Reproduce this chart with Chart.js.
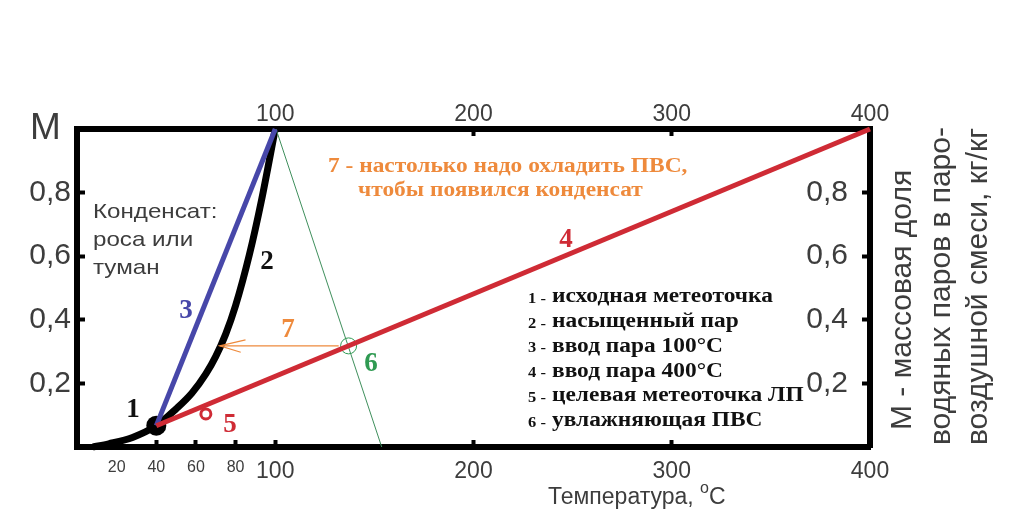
<!DOCTYPE html>
<html><head><meta charset="utf-8">
<script src="https://cdn.jsdelivr.net/npm/chart.js@4.4.1/dist/chart.umd.min.js"></script>
<style>html,body{margin:0;padding:0;background:#fff;}#wrap{width:1024px;height:531px;position:relative;}</style>
</head><body><div id="wrap"><canvas id="c"></canvas></div>
<script>
// ---- data ----
const satTemp  = [8, 16, 28, 40, 50, 58, 65, 70, 75, 80, 87, 93, 100];
const satMass  = [0, 0.01, 0.03, 0.067, 0.12, 0.17, 0.23, 0.285, 0.355, 0.445, 0.606, 0.774, 1.0];
const steam100Temp = [40, 100];
const steam100Mass = [0.067, 1.0];
const steam400Temp = [40, 400];
const steam400Mass = [0.067, 1.0];
const humidTemp = [100.4, 153.7];
const humidMass = [1.0, 0];
const coolTemp = [132, 72];
const coolMass = [0.318, 0.318];
const arrowHeadTemp = [85, 72, 82.6];
const arrowHeadMass = [0.337, 0.318, 0.298];
const startPoint = [40, 0.067];
const targetPoint = [65, 0.104];
const crossPoint = [137, 0.318];
const topTicks = [100, 200, 300, 400];
const bottomTicks = [20, 40, 60, 80, 100, 200, 300, 400];
const leftTicks = [0.2, 0.4, 0.6, 0.8, 1.0];
const rightTicks = [0.2, 0.4, 0.6, 0.8];
const legendNums = ['1 -', '2 -', '3 -', '4 -', '5 -', '6 -'];
const legendTexts = ['исходная метеоточка', 'насыщенный пар', 'ввод пара 100°C', 'ввод пара 400°C', 'целевая метеоточка ЛП', 'увлажняющая ПВС'];
const noteLines = ['7 - настолько надо охладить ПВС,', 'чтобы появился конденсат'];
const condLines = ['Конденсат:', 'роса или', 'туман'];
const rightTitle = ['M - массовая доля', 'водяных паров в паро-', 'воздушной смеси, кг/кг'];

const pts = (xs, ys) => xs.map((x, i) => ({x: x, y: ys[i]}));
const fmt = v => v.toFixed(1).replace('.', ',');

const SANS = 'Liberation Sans, Arial, sans-serif';
const SERIF = 'Liberation Serif, Times New Roman, serif';
const GRAY = '#3d3d3d';
const RED = '#cf2b35', BLUE = '#4747a9', GREEN = '#2f9a52', ORANGE = '#ee8a3c';

const annot = {
  id: 'annot',
  afterDatasetsDraw(chart) {
    const c = chart.ctx;
    c.save();
    const t = (s, x, y, font, color, align, sx) => {
      c.save();
      c.translate(x, y);
      c.scale(sx || 1, 1);
      c.font = font; c.fillStyle = color; c.textAlign = align || 'center'; c.textBaseline = 'middle';
      c.fillText(s, 0, 0);
      c.restore();
    };
    const big = 'bold 27px ' + SERIF;
    t('1', 133, 410, big, '#111');
    t('2', 267, 262, big, '#111');
    t('3', 186, 311, big, BLUE);
    t('4', 566, 240, big, RED);
    t('5', 230, 425, big, RED);
    t('6', 371, 364, big, GREEN);
    t('7', 288, 330, big, ORANGE);
    // orange note
    t(noteLines[0], 328, 167, 'bold 20px ' + SERIF, ORANGE, 'left', 1.17);
    t(noteLines[1], 358, 191, 'bold 20px ' + SERIF, ORANGE, 'left', 1.17);
    // condensate
    condLines.forEach((s, i) => t(s, 93, 212 + i * 28, '21px ' + SANS, GRAY, 'left', 1.15));
    // legend
    legendTexts.forEach((s, i) => {
      const y = 297 + i * 24.8;
      t(legendNums[i], 537, y + 2, 'bold 15px ' + SERIF, '#111', 'center', 1.1);
      t(s, 552, y, 'bold 20px ' + SERIF, '#111', 'left', 1.17);
    });
    // x title
    c.font = '23px ' + SANS; c.fillStyle = GRAY; c.textAlign = 'left'; c.textBaseline = 'middle';
    const a = 'Температура, ';
    let x0 = 548;
    c.fillText(a, x0, 498);
    x0 += c.measureText(a).width;
    c.font = '16px ' + SANS; c.fillText('o', x0, 489);
    x0 += c.measureText('o').width;
    c.font = '23px ' + SANS; c.fillText('C', x0, 498);
    // right title rotated
    const rx = [903, 942, 979], ry = [430, 445, 445];
    rightTitle.forEach((s, i) => {
      c.save();
      c.translate(rx[i], ry[i]);
      c.rotate(-Math.PI / 2);
      c.font = '30px ' + SANS; c.fillStyle = GRAY; c.textAlign = 'left'; c.textBaseline = 'middle';
      c.fillText(s, 0, 0);
      c.restore();
    });
    c.restore();
  }
};

const tickColorFor = (list) => (ctx) => (ctx.tick && list.includes(ctx.tick.value)) ? '#000' : 'rgba(0,0,0,0)';

new Chart(document.getElementById('c'), {
  type: 'scatter',
  data: {
    datasets: [
      {data: pts(steam400Temp, steam400Mass), showLine: true, borderColor: RED, borderWidth: 5, pointRadius: 0, clip: false},
      {data: pts(steam100Temp, steam100Mass), showLine: true, borderColor: BLUE, borderWidth: 5, pointRadius: 0, clip: false},
      {data: [{x: crossPoint[0], y: crossPoint[1]}], pointRadius: 8, borderWidth: 1, borderColor: GREEN, backgroundColor: 'rgba(0,0,0,0)'},
      {data: [{x: targetPoint[0], y: targetPoint[1]}], pointRadius: 5, borderWidth: 3, borderColor: RED, backgroundColor: '#fff'},
      {data: pts(coolTemp, coolMass), showLine: true, borderColor: ORANGE, borderWidth: 1.2, pointRadius: 0},
      {data: pts(arrowHeadTemp, arrowHeadMass), showLine: true, borderColor: ORANGE, borderWidth: 1.2, pointRadius: 0},
      {data: pts(humidTemp, humidMass), showLine: true, borderColor: '#3f8f5c', borderWidth: 1, pointRadius: 0},
      {data: [{x: startPoint[0], y: startPoint[1]}], pointRadius: 10, borderWidth: 0, backgroundColor: '#000'},
      {data: pts(satTemp, satMass), showLine: true, borderColor: '#000', borderWidth: 7, pointRadius: 0, cubicInterpolationMode: 'monotone', clip: false}
    ]
  },
  options: {
    responsive: true, maintainAspectRatio: false, animation: false, devicePixelRatio: 1,
    layout: {padding: 0},
    plugins: {legend: {display: false}, tooltip: {enabled: false}},
    scales: {
      x: {
        type: 'linear', position: 'bottom', min: 0, max: 400,
        afterBuildTicks: s => { s.ticks = bottomTicks.map(v => ({value: v})); },
        afterFit: s => { s.height = 84; },
        ticks: {autoSkip: false, maxRotation: 0, color: GRAY, padding: 18,
          font: ctx => ({family: SANS, size: (ctx.tick && ctx.tick.value < 100) ? 16 : 23})},
        grid: {drawOnChartArea: false, drawTicks: true, tickLength: -7, tickWidth: 4,
          tickColor: tickColorFor([40, 60, 80, 100, 200, 300])},
        border: {display: true, width: 6, color: '#000'}
      },
      x2: {
        type: 'linear', position: 'top', min: 0, max: 400,
        afterBuildTicks: s => { s.ticks = topTicks.map(v => ({value: v})); },
        afterFit: s => { s.height = 129; },
        ticks: {autoSkip: false, maxRotation: 0, color: GRAY, padding: 8, font: {family: SANS, size: 23}},
        grid: {drawOnChartArea: false, drawTicks: true, tickLength: -7, tickWidth: 4,
          tickColor: tickColorFor([200, 300])},
        border: {display: true, width: 6, color: '#000'}
      },
      y: {
        type: 'linear', position: 'left', min: 0, max: 1,
        afterBuildTicks: s => { s.ticks = leftTicks.map(v => ({value: v})); },
        afterFit: s => { s.width = 77; },
        ticks: {color: GRAY, padding: 14, callback: v => v === 1 ? 'M ' : fmt(v),
          font: ctx => ({family: SANS, size: (ctx.tick && ctx.tick.value === 1) ? 37 : 30})},
        grid: {drawOnChartArea: false, drawTicks: true, tickLength: -8, tickWidth: 4,
          tickColor: tickColorFor([0.2, 0.4, 0.6, 0.8])},
        border: {display: true, width: 6, color: '#000'}
      },
      y2: {
        type: 'linear', position: 'right', min: 0, max: 1,
        afterBuildTicks: s => { s.ticks = rightTicks.map(v => ({value: v})); },
        afterFit: s => { s.width = 154; },
        ticks: {color: GRAY, mirror: true, padding: -22, callback: v => fmt(v), font: {family: SANS, size: 30}},
        grid: {drawOnChartArea: false, drawTicks: true, tickLength: -8, tickWidth: 4, tickColor: '#000'},
        border: {display: true, width: 6, color: '#000'}
      }
    }
  },
  plugins: [annot]
});
</script></body></html>
